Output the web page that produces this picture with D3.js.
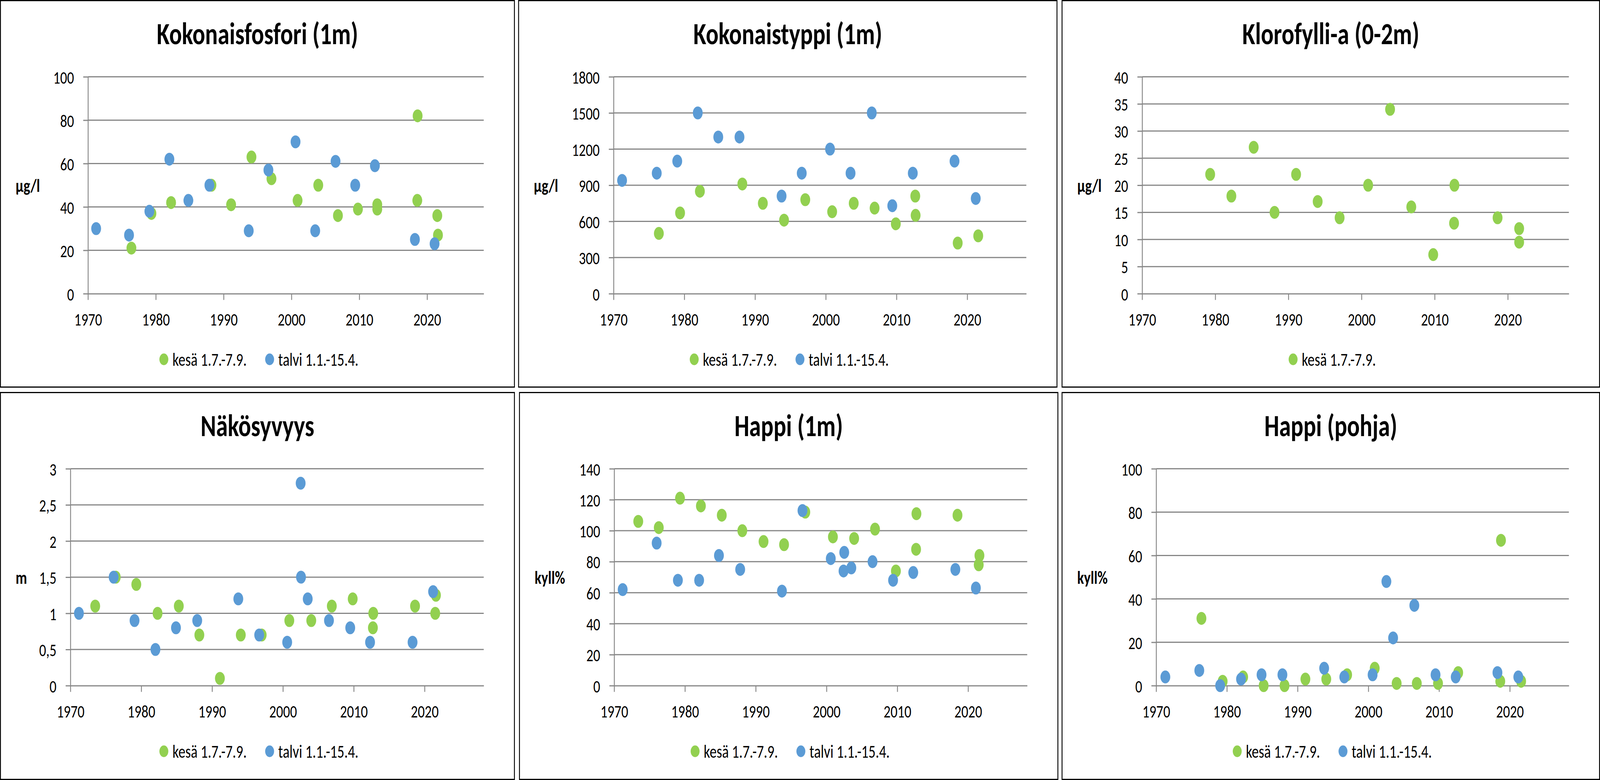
<!DOCTYPE html>
<html>
<head>
<meta charset="utf-8">
<script src="https://cdnjs.cloudflare.com/ajax/libs/d3/7.8.5/d3.min.js"></script>
<style>
  html, body { margin: 0; padding: 0; background: #fff; overflow: hidden; }
  #chart svg { display: block; width: 100vw; height: 100vh; }
  svg text { font-family: Calibri, Carlito, Lato, sans-serif; fill: #000; }
</style>
</head>
<body>
<div id="chart"></div>
<script>
// legend labels and x axis
const seriesNames = ["kesä 1.7.-7.9.", "talvi 1.1.-15.4."]
const seriesColors = ["#92D050", "#5B9BD5"]
const xTicks = [1970, 1980, 1990, 2000, 2010, 2020]
const xMin = 1970
const xMax = 2028.35

// Kokonaisfosfori (1m) µg/l  [vuosi, arvo]
const fosforiTicks = [0, 20, 40, 60, 80, 100]
const fosforiKesa = [[1976.4, 21], [1979.35, 37], [1982.25, 42], [1988.2, 50], [1991.1, 41], [1994.1, 63], [1997.05, 53], [2000.9, 43], [2003.95, 50], [2006.85, 36], [2009.8, 39], [2012.65, 41], [2012.65, 39], [2018.6, 82], [2018.55, 43], [2021.5, 36], [2021.6, 27]]
const fosforiTalvi = [[1971.2, 30], [1976.05, 27], [1979.05, 38], [1982.0, 62], [1984.8, 43], [1987.9, 50], [1993.7, 29], [1996.6, 57], [2000.6, 70], [2003.5, 29], [2006.5, 61], [2009.4, 50], [2012.3, 59], [2018.2, 25], [2021.1, 23]]

// Kokonaistyppi (1m) µg/l
const typpiTicks = [0, 300, 600, 900, 1200, 1500, 1800]
const typpiKesa = [[1976.4, 500], [1979.4, 670], [1982.2, 850], [1988.2, 910], [1991.1, 750], [1994.1, 610], [1997.1, 780], [2000.9, 680], [2003.95, 750], [2006.9, 710], [2009.9, 580], [2012.65, 810], [2012.7, 650], [2018.65, 420], [2021.55, 480]]
const typpiTalvi = [[1971.2, 940], [1976.1, 1000], [1979.0, 1100], [1981.9, 1500], [1984.8, 1300], [1987.8, 1300], [1993.75, 810], [1996.6, 1000], [2000.6, 1200], [2003.5, 1000], [2006.5, 1500], [2009.4, 730], [2012.3, 1000], [2018.2, 1100], [2021.2, 790]]

// Klorofylli-a (0-2m) µg/l
const klorofylliTicks = [0, 5, 10, 15, 20, 25, 30, 35, 40]
const klorofylliKesa = [[1979.3, 22], [1982.2, 18], [1985.25, 27], [1988.1, 15], [1991.05, 22], [1994.0, 17], [1997.0, 14], [2000.9, 20], [2003.9, 34], [2006.8, 16], [2009.8, 7.2], [2012.7, 20], [2012.65, 13], [2018.6, 14], [2021.55, 12], [2021.55, 9.5]]

// Näkösyvyys m
const nakoTicks = [0, 0.5, 1, 1.5, 2, 2.5, 3]
const nakoKesa = [[1973.5, 1.1], [1976.4, 1.5], [1979.3, 1.4], [1982.3, 1.0], [1985.3, 1.1], [1988.2, 0.7], [1991.1, 0.1], [1994.05, 0.7], [1997.0, 0.7], [2000.9, 0.9], [2004.0, 0.9], [2006.9, 1.1], [2009.85, 1.2], [2012.75, 1.0], [2012.7, 0.8], [2018.65, 1.1], [2021.6, 1.25], [2021.5, 1.0]]
const nakoTalvi = [[1971.2, 1.0], [1976.1, 1.5], [1979.05, 0.9], [1982.0, 0.5], [1984.9, 0.8], [1987.9, 0.9], [1993.7, 1.2], [1996.65, 0.7], [2000.6, 0.6], [2002.5, 2.8], [2002.55, 1.5], [2003.5, 1.2], [2006.5, 0.9], [2009.5, 0.8], [2012.3, 0.6], [2018.3, 0.6], [2021.2, 1.3]]

// Happi (1m) kyll%
const happiTicks = [0, 20, 40, 60, 80, 100, 120, 140]
const happiKesa = [[1973.4, 106], [1976.3, 102], [1979.3, 121], [1982.25, 116], [1985.2, 110], [1988.1, 100], [1991.1, 93], [1994.0, 91], [1997.0, 112], [2000.9, 96], [2003.9, 95], [2006.85, 101], [2009.8, 74], [2012.7, 111], [2012.65, 88], [2018.5, 110], [2021.6, 84], [2021.5, 78]]
const happiTalvi = [[1971.2, 62], [1976.0, 92], [1979.0, 68], [1982.0, 68], [1984.8, 84], [1987.8, 75], [1993.7, 61], [1996.6, 113], [2000.6, 82], [2002.5, 86], [2002.4, 74], [2003.5, 76], [2006.5, 80], [2009.4, 68], [2012.25, 73], [2018.2, 75], [2021.1, 63]]

// Happi (pohja) kyll%
const pohjaTicks = [0, 20, 40, 60, 80, 100]
const pohjaKesa = [[1976.4, 31], [1979.4, 2], [1982.3, 4], [1985.2, 0], [1988.15, 0], [1991.1, 3], [1994.05, 3], [1997.0, 5], [2000.9, 8], [2004.0, 1], [2006.85, 1], [2009.85, 1], [2012.7, 6], [2018.75, 67], [2018.65, 2], [2021.6, 2]]
const pohjaTalvi = [[1971.3, 4], [1976.1, 7], [1979.05, 0], [1982.0, 3], [1984.9, 5], [1987.85, 5], [1993.75, 8], [1996.6, 4], [2000.6, 5], [2002.55, 48], [2003.5, 22], [2006.5, 37], [2009.5, 5], [2012.35, 4], [2018.25, 6], [2021.2, 4]]

const charts = [
  { title: "Kokonaisfosfori (1m)", unit: "µg/l", ticks: fosforiTicks, series: [fosforiKesa, fosforiTalvi] },
  { title: "Kokonaistyppi (1m)", unit: "µg/l", ticks: typpiTicks, series: [typpiKesa, typpiTalvi] },
  { title: "Klorofylli-a (0-2m)", unit: "µg/l", ticks: klorofylliTicks, series: [klorofylliKesa] },
  { title: "Näkösyvyys", unit: "m", ticks: nakoTicks, series: [nakoKesa, nakoTalvi] },
  { title: "Happi (1m)", unit: "kyll%", ticks: happiTicks, series: [happiKesa, happiTalvi] },
  { title: "Happi (pohja)", unit: "kyll%", ticks: pohjaTicks, series: [pohjaKesa, pohjaTalvi] }
]

// panel boxes and plot left offsets (layout only)
const boxes = [
  { x: 1.5, y: 1.5, w: 1726, h: 989, left: 294 },
  { x: 1741.5, y: 1.5, w: 1808, h: 989, left: 319 },
  { x: 3566.5, y: 1.5, w: 1805, h: 989, left: 269 },
  { x: 1.5, y: 1004.5, w: 1726, h: 990, left: 235 },
  { x: 1744.5, y: 1004.5, w: 1808, h: 990, left: 318 },
  { x: 3566.5, y: 1004.5, w: 1805, h: 990, left: 316 }
]

// drawing is done in the reference's 5373 x 1996 units, the svg is stretched to the window
const width = 5373
const height = 1996
const plotTop = 195
const plotBottom = 750
const rightGap = 103
const tickLen = 16
const gridColor = "#868686"
const dotR = 16.5

const fi = d3.formatLocale({ decimal: ",", thousands: "\u00a0", grouping: [3], currency: ["", " €"] })
const tickFormat = fi.format("~g")

const svg = d3.select("#chart")
    .append("svg")
    .attr("viewBox", `0 0 ${width} ${height}`)
    .attr("preserveAspectRatio", "none")

svg.append("rect")
    .attr("width", width)
    .attr("height", height)
    .attr("fill", "#fff")

charts.forEach((c, i) => {
    const b = boxes[i]
    const g = svg.append("g").attr("transform", `translate(${b.x},${b.y})`)

    // panel frame
    g.append("rect")
        .attr("width", b.w)
        .attr("height", b.h)
        .attr("fill", "#fff")
        .attr("stroke", "#000")
        .attr("stroke-width", 3)

    // title
    g.append("text")
        .attr("x", b.w / 2)
        .attr("y", 112)
        .attr("text-anchor", "middle")
        .style("font-size", "79px")
        .style("font-weight", "bold")
        .text(c.title)

    const x = d3.scaleLinear()
        .domain([xMin, xMax])
        .range([b.left, b.w - rightGap])

    const y = d3.scaleLinear()
        .domain([0, d3.max(c.ticks)])
        .range([plotBottom, plotTop])

    // gridlines
    g.append("g")
        .selectAll("line")
        .data(c.ticks.filter(t => t > 0))
        .join("line")
        .attr("x1", b.left)
        .attr("x2", b.w - rightGap)
        .attr("y1", d => y(d))
        .attr("y2", d => y(d))
        .attr("stroke", gridColor)
        .attr("stroke-width", 3)

    // y axis
    const yAxis = g.append("g")
        .attr("transform", `translate(${b.left},0)`)
        .call(d3.axisLeft(y).tickValues(c.ticks).tickFormat(tickFormat)
            .tickSize(tickLen).tickSizeOuter(0).tickPadding(31))
    yAxis.selectAll("path, line").attr("stroke", gridColor).attr("stroke-width", 3)
    yAxis.selectAll("text")
        .style("font-size", "46px")
        .attr("dy", "0.36em")

    // x axis
    const xAxis = g.append("g")
        .attr("transform", `translate(0,${plotBottom})`)
        .call(d3.axisBottom(x).tickValues(xTicks).tickFormat(d3.format("d"))
            .tickSize(tickLen).tickSizeOuter(0))
    xAxis.selectAll("path, line").attr("stroke", gridColor).attr("stroke-width", 3)
    xAxis.selectAll("text")
        .style("font-size", "46px")
        .attr("y", 82)
        .attr("dy", null)

    g.selectAll(".domain").attr("fill", "none")

    // unit label
    g.append("text")
        .attr("x", 51)
        .attr("y", (plotTop + plotBottom) / 2)
        .attr("dy", "0.36em")
        .style("font-size", "47px")
        .style("font-weight", "bold")
        .text(c.unit)

    // points, talvi drawn last
    c.series.forEach((s, k) => {
        g.append("g")
            .selectAll("circle")
            .data(s)
            .join("circle")
            .attr("cx", d => x(d[0]))
            .attr("cy", d => y(d[1]))
            .attr("r", dotR)
            .attr("fill", seriesColors[k])
    })

    // legend
    const leg = g.append("g")
    let pos = 0
    c.series.forEach((s, k) => {
        const item = leg.append("g").attr("transform", `translate(${pos},0)`)
        item.append("circle")
            .attr("cx", 15)
            .attr("cy", 0)
            .attr("r", 15)
            .attr("fill", seriesColors[k])
        const t = item.append("text")
            .attr("x", 44)
            .attr("dy", "0.36em")
            .style("font-size", "47px")
            .text(seriesNames[k])
        pos += 44 + t.node().getComputedTextLength() + 62
    })
    const legW = pos - 62
    leg.attr("transform", `translate(${b.w / 2 - legW / 2 + 5},918)`)
})
</script>
</body>
</html>
